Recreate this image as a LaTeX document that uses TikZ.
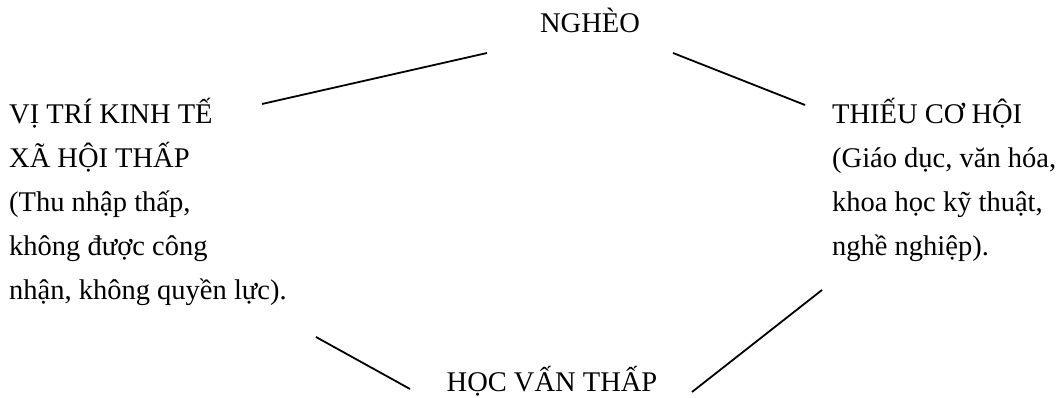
\documentclass[tikz,border=0pt]{standalone}
\usepackage{fontspec}
\setmainfont{Liberation Serif}
\usetikzlibrary{positioning,calc}

\begin{document}
\begin{tikzpicture}[x=1pt,y=1pt,
        lbl/.style={inner sep=0pt,font=\fontsize{28.5}{44}\selectfont,align=left},
        link/.style={line width=1.8pt}]
        \useasboundingbox (0,0) rectangle (1061,398);

        \node[lbl,anchor=base] (ngheo) at (590,365) {NGHÈO};
        \node[lbl,anchor=base west] (vitri) at (9,98) {VỊ TRÍ KINH TẾ\\XÃ HỘI THẤP\\(Thu nhập thấp,\\không được công\\nhận, không quyền lực).};
        \node[lbl,anchor=base west] (thieu) at (832,142) {THIẾU CƠ HỘI\\(Giáo dục, văn hóa,\\khoa học kỹ thuật,\\nghề nghiệp).};
        \node[lbl,anchor=base] (hocvan) at (552,6) {HỌC VẤN THẤP};

        \draw[link] ($(vitri.base west)+(253,196)$) -- ($(ngheo.base)+(-103,-20)$);
        \draw[link] ($(ngheo.base)+(83,-20)$) -- ($(thieu.base west)+(-27,151)$);
        \draw[link] ($(vitri.base west)+(307,-37)$) -- ($(hocvan.base)+(-142,3)$);
        \draw[link] ($(hocvan.base)+(140,0)$) -- ($(thieu.base west)+(-10,-34)$);
\end{tikzpicture}
\end{document}
